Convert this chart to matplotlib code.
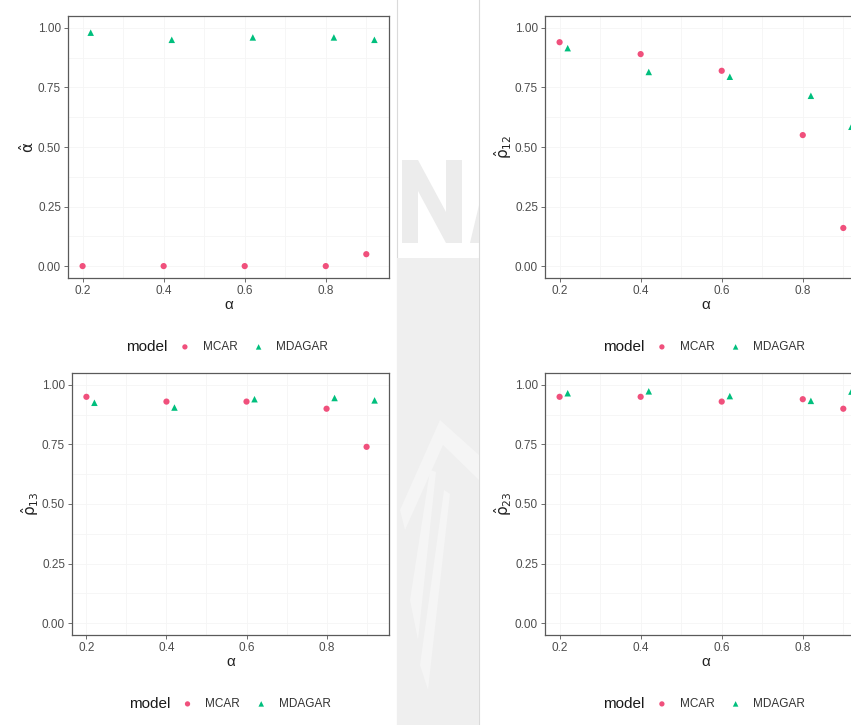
import numpy as np
import matplotlib
matplotlib.use("Agg")
import matplotlib.pyplot as plt
from matplotlib.patches import Polygon
from matplotlib.lines import Line2D

plt.rcParams['font.family'] = ["Liberation Sans", "DejaVu Sans"]
plt.rcParams['mathtext.fontset'] = "dejavusans"

# Simulated alpha values (MDAGAR points are dodged a little to the right)
alpha_mcar = [0.2, 0.4, 0.6, 0.8, 0.9]
alpha_mdagar = [0.22, 0.42, 0.62, 0.82, 0.92]

# Posterior estimates per parameter
alpha_hat_mcar = [0.00, 0.00, 0.00, 0.00, 0.05]
alpha_hat_mdagar = [0.98, 0.95, 0.96, 0.96, 0.95]
rho12_mcar = [0.94, 0.89, 0.82, 0.55, 0.16]
rho12_mdagar = [0.915, 0.815, 0.795, 0.715, 0.585]
rho13_mcar = [0.95, 0.93, 0.93, 0.90, 0.74]
rho13_mdagar = [0.925, 0.905, 0.94, 0.945, 0.935]
rho23_mcar = [0.95, 0.95, 0.93, 0.94, 0.90]
rho23_mdagar = [0.965, 0.973, 0.953, 0.933, 0.972]

x_ticks = [0.2, 0.4, 0.6, 0.8]
y_ticks = [0.0, 0.25, 0.5, 0.75, 1.0]
y_ticklabels = ["0.00", "0.25", "0.50", "0.75", "1.00"]

col_mcar = "#F0507C"
col_mdagar = "#00BF7D"
W, H = 851, 725


def fpoly(pts, color):
    # polygon given in pixel coordinates from the top-left corner
    return Polygon([(x / W, 1 - y / H) for x, y in pts], closed=True,
                   transform=fig.transFigure, facecolor=color,
                   edgecolor="none", zorder=0)


fig = plt.figure(figsize=(W / 100, H / 100), dpi=100)
fig.patch.set_facecolor("white")

# Watermark strip between the two page columns
fig.patches.append(fpoly([(397, 258), (479, 258), (479, 725), (397, 725)], "#efefef"))
for xp in (397, 479):
    fig.add_artist(Line2D([xp / W, xp / W], [0, 1], color="#dadada", lw=0.8,
                          transform=fig.transFigure, zorder=0))
# letter shapes of the logo
fig.patches.append(fpoly([(402, 243), (402, 160), (418, 160), (446, 212), (446, 160),
                          (462, 160), (462, 243), (446, 243), (418, 191), (418, 243)],
                         "#ececec"))
fig.patches.append(fpoly([(470, 243), (479, 205), (479, 243)], "#ececec"))
for pts in ([(400, 510), (440, 420), (479, 455), (479, 480), (443, 445), (405, 530)],
            [(410, 600), (430, 470), (436, 472), (418, 640)],
            [(420, 665), (444, 490), (450, 494), (428, 690)]):
    fig.patches.append(fpoly(pts, "#f5f5f5"))

panels = [
    # left, bottom (pixels), width, y values, y label
    (68, 278, 321, alpha_hat_mcar, alpha_hat_mdagar, r"$\hat{\mathrm{\alpha}}$"),
    (545, 278, 321, rho12_mcar, rho12_mdagar, r"$\hat{\mathrm{\rho}}_{12}$"),
    (72, 635, 317, rho13_mcar, rho13_mdagar, r"$\hat{\mathrm{\rho}}_{13}$"),
    (545, 635, 321, rho23_mcar, rho23_mdagar, r"$\hat{\mathrm{\rho}}_{23}$"),
]

for left, bottom, width, y_mcar, y_mdagar, ylab in panels:
    ax = fig.add_axes([left / W, 1 - bottom / H, width / W, 262 / H])
    ax.set_facecolor("none")
    ax.set_xlim(0.164, 0.956)
    ax.set_ylim(-0.05, 1.05)

    # faint ggplot-style grid
    for gx in [0.2, 0.3, 0.4, 0.5, 0.6, 0.7, 0.8, 0.9]:
        ax.axvline(gx, color="#f5f5f5", lw=0.6, zorder=0)
    for gy in np.arange(0, 1.01, 0.125):
        ax.axhline(gy, color="#f5f5f5", lw=0.6, zorder=0)

    ax.scatter(alpha_mcar, y_mcar, s=20, marker="o", color=col_mcar,
               edgecolor="none", label="MCAR", zorder=3)
    ax.scatter(alpha_mdagar, y_mdagar, s=22, marker="^", color=col_mdagar,
               edgecolor="none", label="MDAGAR", zorder=3)

    ax.set_xticks(x_ticks)
    ax.set_xticklabels([f"{t:.1f}" for t in x_ticks])
    ax.set_yticks(y_ticks)
    ax.set_yticklabels(y_ticklabels)
    ax.tick_params(axis="both", labelsize=8.5, labelcolor="#4d4d4d", color="#555555",
                   length=3, width=0.6, pad=2)
    for sp in ax.spines.values():
        sp.set_color("#5a5a5a")
        sp.set_linewidth(0.9)

    ax.set_xlabel("α", fontsize=11, labelpad=1, color="#222222")
    ax.set_ylabel(ylab, fontsize=11, labelpad=1, color="#222222")

    # legend row under the panel
    leg_y = -(69 / 262)
    ax.text((126 - 68) / 321, leg_y, "model", transform=ax.transAxes, fontsize=11,
            color="#1a1a1a", ha="left", va="center")
    ax.legend(loc="center left", bbox_to_anchor=((179 - 68) / 321, leg_y), ncol=2,
              frameon=False, fontsize=8.5, handlelength=1.0, handletextpad=1.0,
              columnspacing=1.3, borderpad=0, borderaxespad=0, markerscale=0.85,
              labelcolor="#333333")

fig.savefig("out.png", dpi=100, facecolor="white")
